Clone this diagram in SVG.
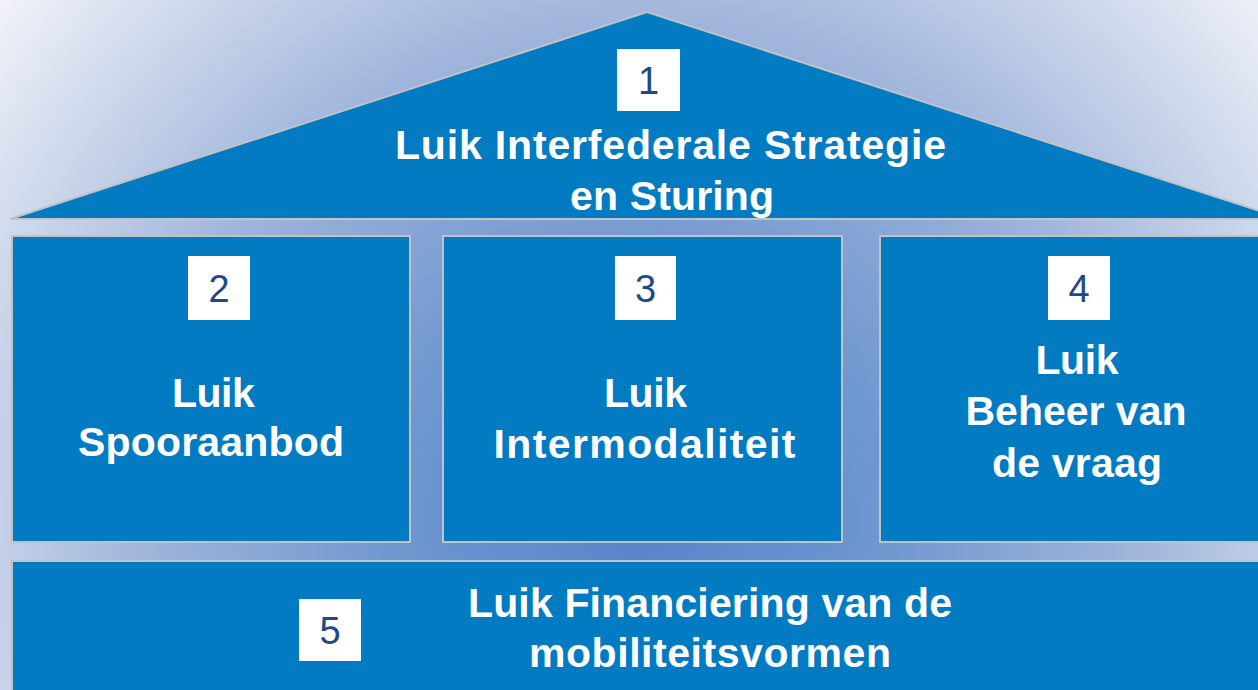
<svg xmlns="http://www.w3.org/2000/svg" width="1258" height="690" viewBox="0 0 1258 690">
<defs>
<radialGradient id="bg" gradientUnits="userSpaceOnUse" cx="640" cy="520" r="820">
<stop offset="0" stop-color="#5585C9"/>
<stop offset="0.3" stop-color="#6F97D0"/>
<stop offset="0.6" stop-color="#9FB4DB"/>
<stop offset="1" stop-color="#F0F2F8"/>
</radialGradient>
<style>
.panel{fill:#027BC2;stroke:#C2C2C2;stroke-width:2}
.num{fill:#FFFFFF}
.numt{font-family:"Liberation Sans",Arial,sans-serif;font-size:38px;fill:#1B4A86;text-anchor:middle}
.lbl{font-family:"Liberation Sans",Arial,sans-serif;font-size:41px;font-weight:bold;fill:#FFFFFF;text-anchor:middle}
</style>
</defs>
<rect x="0" y="0" width="1258" height="690" fill="url(#bg)"/>
<g id="connectors"></g>
<g id="node1">
<polygon class="panel" points="10,219 647,12 1284,219"/>
<rect class="num" x="617" y="49" width="63" height="62"/>
<text class="numt" x="648.5" y="94">1</text>
<text class="lbl" x="670.5" y="159" textLength="551" lengthAdjust="spacing">Luik Interfederale Strategie</text>
<text class="lbl" x="672" y="210" textLength="204" lengthAdjust="spacing">en Sturing</text>
</g>
<g id="node2">
<rect class="panel" x="12" y="236" width="398" height="306"/>
<rect class="num" x="188" y="256" width="62" height="64"/>
<text class="numt" x="219" y="302">2</text>
<text class="lbl" x="213.4" y="407" textLength="83" lengthAdjust="spacing">Luik</text>
<text class="lbl" x="211" y="456" textLength="266" lengthAdjust="spacing">Spooraanbod</text>
</g>
<g id="node3">
<rect class="panel" x="443" y="236" width="399" height="306"/>
<rect class="num" x="615" y="256" width="61" height="64"/>
<text class="numt" x="645.5" y="302">3</text>
<text class="lbl" x="645.5" y="407" textLength="83" lengthAdjust="spacing">Luik</text>
<text class="lbl" x="644.5" y="457.5" textLength="302" lengthAdjust="spacing">Intermodaliteit</text>
</g>
<g id="node4">
<rect class="panel" x="880" y="236" width="400" height="306"/>
<rect class="num" x="1048" y="256" width="62" height="64"/>
<text class="numt" x="1079" y="302">4</text>
<text class="lbl" x="1077" y="373.5" textLength="83" lengthAdjust="spacing">Luik</text>
<text class="lbl" x="1076" y="425" textLength="221" lengthAdjust="spacing">Beheer van</text>
<text class="lbl" x="1077" y="477" textLength="170" lengthAdjust="spacing">de vraag</text>
</g>
<g id="node5">
<rect class="panel" x="12" y="561" width="1270" height="150"/>
<rect class="num" x="299" y="599" width="62" height="62"/>
<text class="numt" x="330" y="644">5</text>
<text class="lbl" x="710" y="616.5" textLength="484" lengthAdjust="spacing">Luik Financiering van de</text>
<text class="lbl" x="710" y="666.5" textLength="362" lengthAdjust="spacing">mobiliteitsvormen</text>
</g>
</svg>
